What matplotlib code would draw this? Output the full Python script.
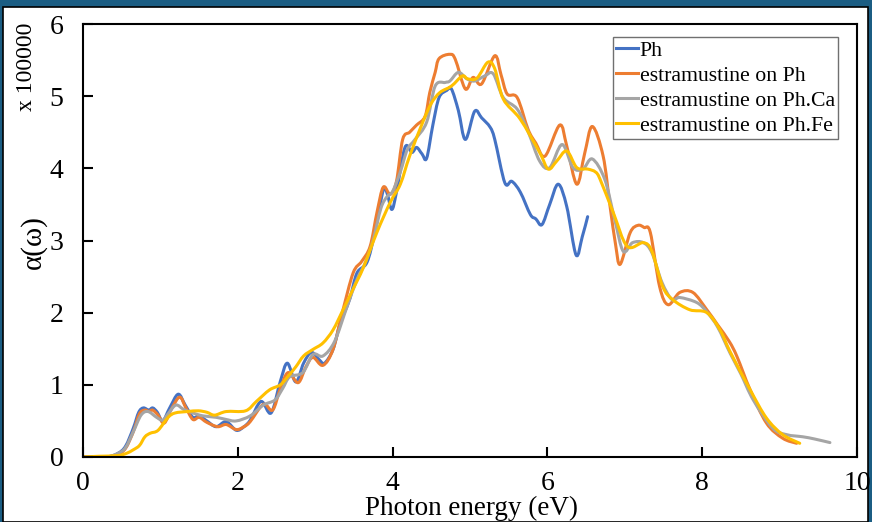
import matplotlib
matplotlib.use("Agg")
import matplotlib.pyplot as plt
from matplotlib.patches import Rectangle, PathPatch
from matplotlib.path import Path
from matplotlib.lines import Line2D

plt.rcParams['font.family'] = ['Liberation Serif', 'DejaVu Serif']

# ---------------- data ----------------
ph_x = [0, 0.3, 0.45, 0.55, 0.65, 0.72, 0.78, 0.85, 0.9, 0.96, 1.03, 1.12, 1.23, 1.32, 1.42, 1.5,
        1.6, 1.72, 1.85, 1.98, 2.08, 2.16, 2.3, 2.43, 2.55, 2.64, 2.75, 2.85, 2.95, 3.05, 3.12,
        3.23, 3.32, 3.38, 3.45, 3.54, 3.67, 3.77, 3.88, 3.93, 3.99, 4.05, 4.16, 4.25, 4.31, 4.38,
        4.44, 4.52, 4.6, 4.7, 4.76, 4.85, 4.94, 5.06, 5.15, 5.26, 5.32, 5.45, 5.54, 5.65, 5.78,
        5.85, 5.93, 6.03, 6.14, 6.25, 6.37, 6.45, 6.52]
ph_y = [0, 0.0, 0.05, 0.15, 0.4, 0.62, 0.68, 0.65, 0.68, 0.62, 0.5, 0.68, 0.87, 0.72, 0.55, 0.57,
        0.5, 0.42, 0.49, 0.37, 0.42, 0.51, 0.77, 0.61, 1.05, 1.30, 1.04, 1.3, 1.45, 1.35, 1.3,
        1.49, 1.85, 2.01, 2.2, 2.55, 2.7, 3.11, 3.7, 3.65, 3.43, 3.67, 4.29, 4.22, 4.29, 4.2,
        4.14, 4.6, 4.98, 5.08, 5.1, 4.8, 4.40, 4.79, 4.7, 4.57, 4.40, 3.80, 3.82, 3.67, 3.36,
        3.3, 3.22, 3.5, 3.78, 3.47, 2.80, 3.05, 3.33]

est_ph_x = [0, 0.3, 0.45, 0.55, 0.65, 0.73, 0.8, 0.85, 0.9, 0.97, 1.05, 1.15, 1.25, 1.33, 1.42,
            1.5, 1.6, 1.74, 1.85, 1.98, 2.08, 2.16, 2.33, 2.45, 2.55, 2.65, 2.78, 2.88, 2.97, 3.1,
            3.23, 3.35, 3.49, 3.6, 3.71, 3.8, 3.88, 3.97, 4.05, 4.13, 4.22, 4.31, 4.42, 4.48, 4.55,
            4.6, 4.74, 4.81, 4.94, 5.04, 5.15, 5.32, 5.4, 5.48, 5.61, 5.75, 5.85, 5.97, 6.16, 6.25,
            6.38, 6.48, 6.58, 6.72, 6.81, 6.88, 6.94, 7.07, 7.17, 7.25, 7.33, 7.45, 7.56, 7.71,
            7.88, 8.06, 8.2, 8.35, 8.45, 8.62, 8.83, 9.04, 9.22]
est_ph_y = [0, 0.0, 0.04, 0.12, 0.35, 0.6, 0.65, 0.63, 0.65, 0.58, 0.47, 0.68, 0.83, 0.68, 0.52,
            0.55, 0.48, 0.42, 0.45, 0.38, 0.42, 0.49, 0.73, 0.65, 0.95, 1.17, 1.03, 1.25, 1.38, 1.27,
            1.49, 2.0, 2.55, 2.71, 2.92, 3.4, 3.74, 3.64, 3.82, 4.40, 4.5, 4.6, 4.72, 5.05, 5.33,
            5.52, 5.58, 5.51, 5.10, 5.26, 5.17, 5.56, 5.3, 5.03, 4.98, 4.54, 4.35, 4.17, 4.6, 4.31,
            3.78, 4.2, 4.58, 4.17, 3.47, 2.95, 2.67, 3.11, 3.21, 3.18, 3.11, 2.36, 2.11, 2.28,
            2.28, 2.04, 1.83, 1.6, 1.39, 0.93, 0.47, 0.26, 0.19]

est_ca_x = [0, 0.3, 0.45, 0.55, 0.65, 0.75, 0.84, 0.95, 1.03, 1.1, 1.2, 1.3, 1.42, 1.55, 1.72,
            1.85, 1.98, 2.16, 2.33, 2.48, 2.58, 2.67, 2.84, 2.97, 3.1, 3.25, 3.41, 3.54, 3.65, 3.75,
            3.85, 3.93, 4.0, 4.1, 4.19, 4.29, 4.44, 4.55, 4.68, 4.74, 4.85, 4.96, 5.06, 5.19, 5.30,
            5.43, 5.61, 5.75, 5.9, 6.03, 6.19, 6.33, 6.46, 6.58, 6.74, 6.87, 6.98, 7.1, 7.24, 7.35,
            7.48, 7.61, 7.71, 7.93, 8.06, 8.2, 8.36, 8.5, 8.66, 8.91, 9.09, 9.30, 9.45, 9.65]
est_ca_y = [0, 0.0, 0.05, 0.13, 0.35, 0.58, 0.63, 0.55, 0.51, 0.6, 0.72, 0.66, 0.61, 0.57, 0.55,
            0.52, 0.50, 0.57, 0.72, 0.79, 0.95, 1.11, 1.17, 1.42, 1.4, 1.6, 2.08, 2.46, 2.7, 3.01,
            3.45, 3.61, 3.68, 3.95, 4.26, 4.4, 4.64, 5.14, 5.19, 5.21, 5.33, 5.24, 5.21, 5.28, 5.31,
            4.98, 4.82, 4.51, 4.1, 4.01, 4.33, 4.01, 3.99, 4.13, 3.85, 3.29, 2.85, 2.97, 2.97, 2.83,
            2.42, 2.18, 2.21, 2.14, 2.01, 1.8, 1.44, 1.15, 0.79, 0.40, 0.31, 0.28, 0.25, 0.2]

est_fe_x = [0, 0.2, 0.45, 0.56, 0.65, 0.73, 0.8, 0.87, 0.97, 1.1, 1.19, 1.35, 1.49, 1.6, 1.7,
            1.85, 2.1, 2.24, 2.41, 2.55, 2.65, 2.75, 2.85, 2.97, 3.1, 3.23, 3.36, 3.5, 3.62, 3.8,
            3.97, 4.1, 4.22, 4.39, 4.5, 4.61, 4.76, 4.9, 4.97, 5.09, 5.23, 5.32, 5.43, 5.65, 5.9,
            6.01, 6.12, 6.25, 6.38, 6.52, 6.62, 6.68, 6.85, 7.03, 7.24, 7.35, 7.49, 7.62, 7.84,
            8.06, 8.23, 8.36, 8.62, 8.83, 9.04, 9.26]
est_fe_y = [0, 0.01, 0.02, 0.05, 0.1, 0.16, 0.28, 0.33, 0.37, 0.55, 0.61, 0.63, 0.64, 0.62, 0.58,
            0.63, 0.64, 0.77, 0.93, 1.0, 1.12, 1.25, 1.4, 1.49, 1.58, 1.76, 2.04, 2.35, 2.62, 3.12,
            3.53, 3.78, 4.17, 4.64, 4.9, 5.05, 5.14, 5.28, 5.24, 5.25, 5.47, 5.38, 4.96, 4.68, 4.22,
            3.99, 4.1, 4.24, 4.01, 3.99, 3.95, 3.85, 3.39, 2.92, 2.97, 2.85, 2.36, 2.18, 2.04,
            2.0, 1.76, 1.46, 0.93, 0.54, 0.31, 0.19]

series_labels = ["Ph", "estramustine on Ph", "estramustine on Ph.Ca", "estramustine on Ph.Fe"]
x_ticks = [0, 2, 4, 6, 8, 10]
y_ticks = [0, 1, 2, 3, 4, 5, 6]


def smooth_path(xs, ys):
    """Excel-style smoothed line: cubic Bezier segments through every data point."""
    n = len(xs)
    verts = [(xs[0], ys[0])]
    codes = [Path.MOVETO]
    for i in range(n - 1):
        x0, y0 = xs[max(i - 1, 0)], ys[max(i - 1, 0)]
        x1, y1 = xs[i], ys[i]
        x2, y2 = xs[i + 1], ys[i + 1]
        x3, y3 = xs[min(i + 2, n - 1)], ys[min(i + 2, n - 1)]
        c1 = (x1 + (x2 - x0) / 6.0, y1 + (y2 - y0) / 6.0)
        c2 = (x2 - (x3 - x1) / 6.0, y2 - (y3 - y1) / 6.0)
        verts += [c1, c2, (x2, y2)]
        codes += [Path.CURVE4, Path.CURVE4, Path.CURVE4]
    return Path(verts, codes)


# ---------------- figure ----------------
W, H = 872, 522
fig = plt.figure(figsize=(W / 100, H / 100), dpi=100)
fig.patch.set_facecolor('#1b5d83')
bg = Rectangle((3 / W, 0), 865 / W, 1 - 7 / H, transform=fig.transFigure,
               facecolor='white', edgecolor='black', linewidth=1.2, zorder=-10)
fig.add_artist(bg)

ax = fig.add_axes([83 / W, 1 - 457 / H, (857 - 83) / W, (457 - 24) / H])
ax.set_zorder(5)
ax.set_facecolor('white')

colors = ['#4472C4', '#ED7D31', '#A5A5A5', '#FFC000']
data = [(ph_x, ph_y), (est_ph_x, est_ph_y), (est_ca_x, est_ca_y), (est_fe_x, est_fe_y)]
LW = 2.2
handles = []
for (xs, ys), c, lab in zip(data, colors, series_labels):
    patch = PathPatch(smooth_path(xs, ys), facecolor='none', edgecolor=c, lw=LW,
                      joinstyle='round', capstyle='round', transform=ax.transData)
    ax.add_patch(patch)
    handles.append(Line2D([], [], color=c, lw=LW, label=lab))

ax.set_xlim(0, 10)
ax.set_ylim(0, 6)
ax.set_xticks(x_ticks)
ax.set_yticks(y_ticks)
ax.tick_params(axis='both', direction='in', length=7, width=1.5, labelsize=20, color='black')
ax.tick_params(axis='x', pad=10)
ax.tick_params(axis='y', pad=14)
for s in ax.spines.values():
    s.set_linewidth(1.5)
    s.set_color('black')

fig.text(471 / W, 1 - 515 / H, "Photon energy (eV)", ha='center', va='baseline', fontsize=19.5, zorder=6)
fig.text(33 / W, 1 - 242 / H, "α(ω)", rotation=90, ha='center', va='center', fontsize=21, zorder=6)
fig.text(27 / W, 1 - 67 / H, "x 100000", rotation=90, ha='center', va='center', fontsize=17, zorder=6)

leg = ax.legend(handles=handles, loc='upper left', bbox_to_anchor=(613 / W, 1 - 37 / H),
                bbox_transform=fig.transFigure, fontsize=15.7, frameon=True, fancybox=False,
                framealpha=1, edgecolor='#707070', handlelength=1.0, handletextpad=0.08,
                labelspacing=0.22, borderpad=0.15, borderaxespad=0)
leg.get_frame().set_linewidth(1.0)

fig.savefig("out.png", dpi=100, facecolor=fig.get_facecolor())
